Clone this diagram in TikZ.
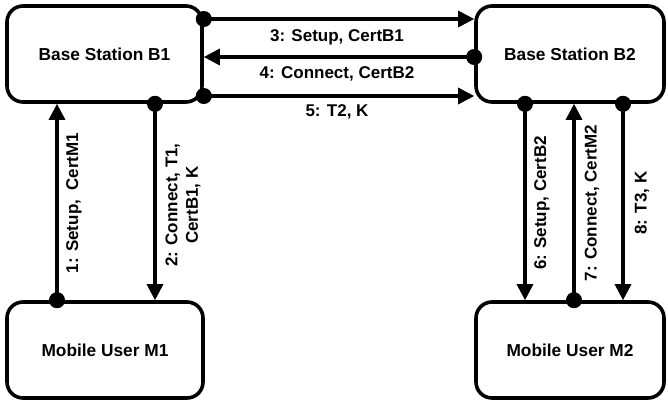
\documentclass[tikz,border=0pt]{standalone}
\usepackage{fontspec}
\setmainfont{Liberation Sans}
\usetikzlibrary{arrows.meta}
\tikzset{
  entity/.style={draw, line width=3.6pt, rounded corners=16pt, minimum width=195pt,
    minimum height=96pt, inner sep=0pt, font=\fontsize{17.3}{20.4}\selectfont\bfseries},
  msg/.style={line width=3.1pt, shorten <=-8pt,
    {Circle[length=16pt]}-{Triangle[length=16pt,width=16pt]}},
  lbl/.style={font=\fontsize{17}{20.4}\selectfont\bfseries, inner sep=0pt},
  vlbl/.style={lbl, rotate=90, align=center}
}
\begin{document}
\begin{tikzpicture}[x=1pt,y=1pt]
\useasboundingbox (0,0) rectangle (668,400);

% the four parties
\node[entity] (b1) at (104.5,346) {Base Station B1};
\node[entity, minimum width=188pt] (b2) at (570,346) {Base Station B2};
\node[entity, minimum width=196pt] (m1) at (105,50) {Mobile User M1};
\node[entity, minimum width=188pt] (m2) at (570,50) {Mobile User M2};

% exchange between the base stations
\coordinate (h3) at (0,381);
\coordinate (h4) at (0,343);
\coordinate (h5) at (0,304);
\draw[msg] (b1.east |- h3) -- (b2.west |- h3);
\draw[msg] (b2.west |- h4) -- (b1.east |- h4);
\draw[msg] (b1.east |- h5) -- (b2.west |- h5);
\node[lbl] (l3) at (337,363) {3: Setup, CertB1};
\node[lbl] (l4) at (337,326) {4: Connect, CertB2};
\node[lbl] (l5) at (337,288) {5: T2, K};

% B1 and M1
\coordinate (v1) at (57,0);
\coordinate (v2) at (155,0);
\draw[msg] (m1.north -| v1) -- (b1.south -| v1);
\draw[msg] (b1.south -| v2) -- (m1.north -| v2);
\node[vlbl] (l1) at (74,197) {1: Setup,\ \ CertM1};
\node[vlbl] (l2) at (183,195) {2: Connect, T1,\\CertB1, K};

% B2 and M2
\coordinate (v6) at (525,0);
\coordinate (v7) at (574,0);
\coordinate (v8) at (623,0);
\draw[msg] (b2.south -| v6) -- (m2.north -| v6);
\draw[msg] (m2.north -| v7) -- (b2.south -| v7);
\draw[msg] (b2.south -| v8) -- (m2.north -| v8);
\node[vlbl] (l6) at (542,197) {6: Setup, CertB2};
\node[vlbl] (l7) at (592,197) {7: Connect, CertM2};
\node[vlbl] (l8) at (642,197) {8: T3, K};
\end{tikzpicture}
\end{document}
